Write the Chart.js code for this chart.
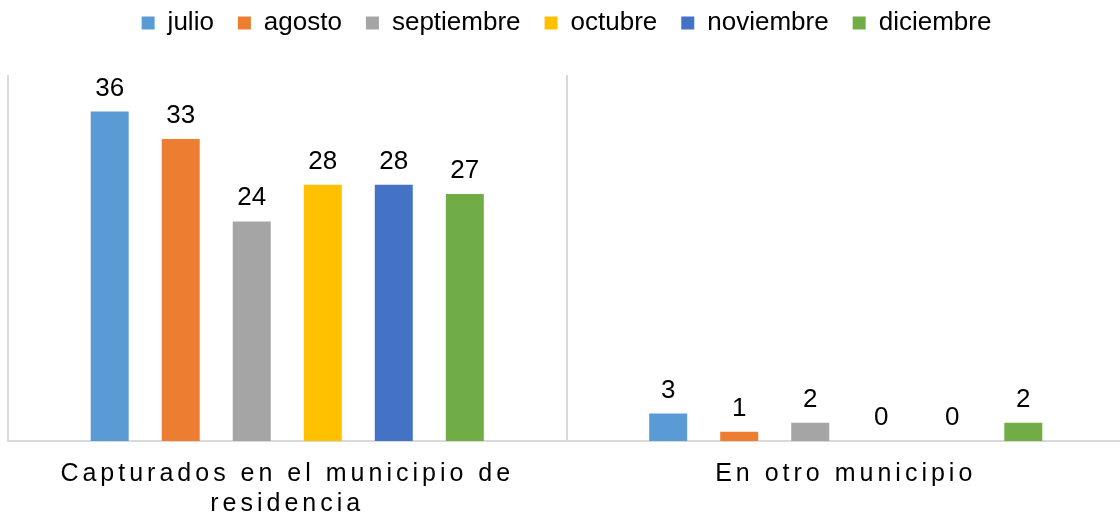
<!DOCTYPE html>
<html lang="es">
<head>
<meta charset="utf-8">
<title>Capturados por municipio</title>
<script src="https://cdn.jsdelivr.net/npm/chart.js@4"></script>
<style>
    html, body { margin: 0; padding: 0; background: #fff; overflow: hidden; }
    #wrap { width: 1125px; height: 519px; }
</style>
</head>
<body>
<div id="wrap"><canvas id="capturasChart"></canvas></div>
<script>
// categories (x axis) and months (series)
const categories = [['Capturados en el municipio de', 'residencia'], 'En otro municipio'];
const months = ['julio', 'agosto', 'septiembre', 'octubre', 'noviembre', 'diciembre'];
const monthColors = ['#5B9BD5', '#ED7D31', '#A5A5A5', '#FFC000', '#4472C4', '#70AD47'];

// values per month: [en el municipio de residencia, en otro municipio]
const julio = [36, 3];
const agosto = [33, 1];
const septiembre = [24, 2];
const octubre = [28, 0];
const noviembre = [28, 0];
const diciembre = [27, 2];
const seriesValues = [julio, agosto, septiembre, octubre, noviembre, diciembre];

const FONT = "'Liberation Sans', Arial, sans-serif";

// value labels above each bar
const valueLabels = {
    id: 'valueLabels',
    afterDatasetsDraw(chart) {
        const ctx = chart.ctx;
        ctx.save();
        ctx.font = '26px ' + FONT;
        ctx.fillStyle = '#000';
        ctx.textAlign = 'center';
        ctx.textBaseline = 'alphabetic';
        chart.data.datasets.forEach((ds, i) => {
            chart.getDatasetMeta(i).data.forEach((bar, j) => {
                ctx.fillText(String(ds.data[j]), bar.x, bar.y - 16);
            });
        });
        ctx.restore();
    }
};

// spaced-out category labels, like the original
const spacedTicks = {
    id: 'spacedTicks',
    beforeDraw(chart) {
        const scale = chart.scales.x;
        if (!scale || scale._spaced) return;
        const orig = scale.drawLabels;
        scale.drawLabels = function (area) {
            chart.ctx.save();
            chart.ctx.letterSpacing = '4px';
            orig.call(this, area);
            chart.ctx.restore();
        };
        scale._spaced = true;
    }
};

// make room between legend and plot
const legendRoom = {
    id: 'legendRoom',
    beforeInit(chart) {
        const fit = chart.legend.fit;
        chart.legend.fit = function () {
            fit.bind(chart.legend)();
            this.height = 89;
        };
    }
};

const ctx = document.getElementById('capturasChart').getContext('2d');
const chart = new Chart(ctx, {
    type: 'bar',
    data: {
        labels: categories,
        datasets: months.map((m, i) => ({
            label: m,
            data: seriesValues[i],
            backgroundColor: monthColors[i],
            categoryPercentage: 0.763,
            barPercentage: 0.535
        }))
    },
    options: {
        responsive: true,
        maintainAspectRatio: false,
        animation: false,
        layout: { padding: { left: 8, right: 0, top: -14, bottom: 0 } },
        scales: {
            x: {
                grid: { display: true, offset: true, color: '#d9d9d9', lineWidth: 2, drawTicks: false },
                border: { display: true, color: '#d9d9d9', width: 2 },
                ticks: {
                    color: '#000',
                    font: { family: FONT, size: 25, lineHeight: 1.2 },
                    padding: 18,
                    maxRotation: 0,
                    autoSkip: false
                },
                afterFit(scale) { scale.height = 78; }
            },
            y: {
                display: false,
                min: 0,
                max: 40
            }
        },
        plugins: {
            legend: {
                display: true,
                position: 'top',
                labels: {
                    color: '#000',
                    font: { family: FONT, size: 26 },
                    boxWidth: 13,
                    boxHeight: 13,
                    padding: 24
                }
            },
            tooltip: { enabled: false }
        }
    },
    plugins: [valueLabels, spacedTicks, legendRoom]
});
</script>
</body>
</html>
